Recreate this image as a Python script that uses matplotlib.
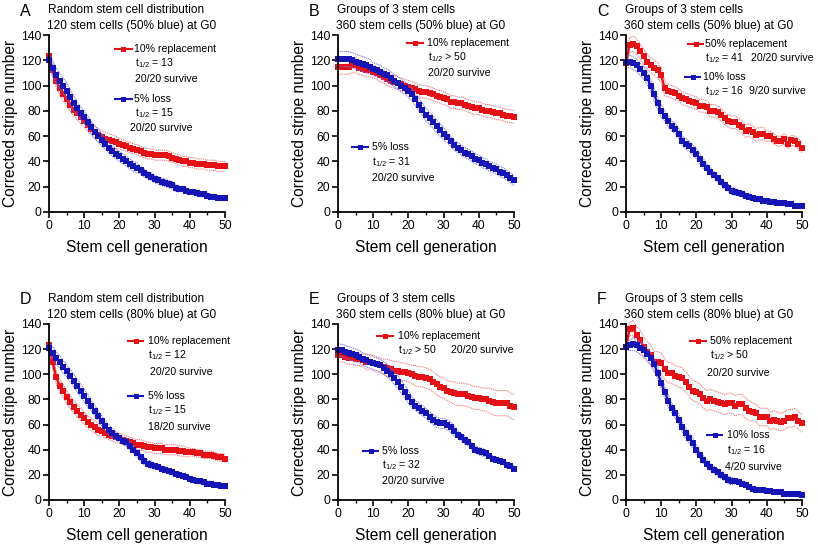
import numpy as np
import matplotlib
matplotlib.use("Agg")
import matplotlib.pyplot as plt
from matplotlib.lines import Line2D

plt.rcParams["font.family"] = ["Liberation Sans", "DejaVu Sans"]
plt.rcParams["mathtext.default"] = "regular"

generations = np.arange(0, 51)

# --- panel A: random distribution, 120 cells (50% blue)
a_red = [123, 112, 104, 98, 93, 89, 85, 81, 78, 75, 72, 69, 66, 63, 61, 59, 58, 57, 56, 55,
         54, 53, 52, 51, 50, 49, 48, 47, 46, 46, 45, 45, 45, 45, 44, 43, 42, 41, 40, 40,
         39, 39, 38, 38, 38, 37, 37, 37, 36, 36, 36]
a_red_sd = [4, 5, 5, 5, 5, 5, 5, 5, 5, 5, 5, 5, 5, 5, 5, 5, 5, 5, 5, 5,
            4, 4, 4, 4, 4, 4, 4, 4, 4, 4, 4, 4, 4, 4, 4, 4, 4, 4, 4, 4,
            4, 4, 4, 4, 4, 4, 4, 4, 4, 4, 4]
a_blue = [120, 114, 108, 104, 100, 96, 91, 86, 82, 78, 75, 71, 67, 63, 60, 57, 54, 51, 48, 46,
          44, 42, 40, 38, 36, 35, 33, 31, 29, 28, 26, 25, 24, 23, 22, 21, 19, 18, 18, 17,
          16, 16, 15, 14, 14, 13, 12, 12, 11, 11, 11]
a_blue_sd = [5, 6, 6, 6, 6, 6, 6, 6, 5, 5, 5, 5, 5, 5, 5, 5, 4, 4, 4, 4,
             4, 4, 4, 4, 4, 4, 3, 3, 3, 3, 3, 3, 3, 3, 3, 3, 3, 2, 2, 2,
             2, 2, 2, 2, 2, 2, 2, 2, 2, 2, 2]

# --- panel B: groups of 3, 360 cells (50% blue)
b_red = [115, 115, 115, 115, 116, 116, 114, 113, 112, 112, 111, 110, 108, 107, 105, 104, 103, 102, 101, 100,
         99, 98, 97, 96, 95, 95, 94, 93, 92, 91, 90, 89, 87, 87, 86, 86, 85, 84, 83, 82,
         82, 81, 80, 80, 79, 78, 78, 77, 76, 76, 75]
b_red_sd = [6, 6, 6, 6, 6, 6, 5, 5, 5, 5, 5, 5, 5, 5, 5, 5, 5, 5, 5, 5,
            5, 5, 5, 5, 5, 5, 5, 5, 5, 5, 5, 5, 5, 5, 5, 5, 5, 5, 5, 5,
            5, 5, 5, 5, 5, 5, 5, 5, 5, 5, 5]
b_blue = [121, 121, 121, 121, 120, 119, 118, 117, 116, 115, 113, 112, 111, 109, 108, 106, 104, 102, 100, 98,
          96, 93, 89, 85, 81, 77, 74, 71, 68, 65, 62, 59, 56, 53, 51, 49, 47, 46, 44, 42,
          41, 39, 38, 36, 35, 34, 32, 31, 29, 27, 25]
b_blue_sd = [6, 6, 6, 6, 6, 6, 6, 6, 6, 6, 5, 5, 5, 5, 5, 5, 5, 5, 5, 5,
             5, 5, 5, 5, 5, 5, 5, 5, 5, 5, 5, 4, 4, 4, 4, 4, 4, 4, 4, 4,
             4, 4, 4, 4, 4, 4, 4, 4, 4, 4, 4]

# --- panel C: groups of 3, 50% replacement vs 10% loss
c_red = [118, 132, 133, 131, 127, 123, 119, 116, 114, 112, 108, 98, 96, 95, 94, 92, 90, 89, 88, 87,
         86, 84, 84, 83, 80, 80, 79, 77, 74, 72, 71, 71, 69, 67, 64, 65, 63, 61, 62, 62,
         60, 60, 58, 56, 56, 58, 54, 57, 56, 54, 51]
c_red_sd = [5, 6, 6, 6, 6, 6, 6, 6, 6, 6, 6, 6, 5, 5, 5, 5, 5, 5, 5, 5,
            5, 5, 5, 5, 5, 5, 5, 5, 5, 5, 5, 5, 5, 5, 5, 5, 5, 5, 5, 5,
            4, 4, 4, 4, 4, 4, 4, 4, 4, 4, 4]
c_blue = [119, 119, 118, 116, 113, 110, 106, 100, 93, 86, 80, 76, 72, 68, 66, 62, 56, 54, 52, 49,
          46, 42, 38, 35, 32, 29, 27, 24, 21, 19, 17, 16, 15, 14, 13, 12, 11, 10, 10, 9,
          9, 8, 8, 7, 7, 7, 6, 6, 5, 5, 5]
c_blue_sd = [4, 5, 5, 5, 5, 5, 5, 5, 5, 5, 5, 4, 4, 4, 4, 4, 4, 4, 4, 4,
             4, 4, 4, 3, 3, 3, 3, 3, 3, 3, 3, 3, 2, 2, 2, 2, 2, 2, 2, 2,
             2, 2, 2, 2, 1, 1, 1, 1, 1, 1, 1]

# --- panel D: random distribution, 120 cells (80% blue)
d_red = [123, 110, 98, 91, 87, 82, 78, 74, 71, 68, 65, 62, 60, 58, 56, 55, 53, 52, 51, 50,
         49, 48, 47, 46, 45, 44, 44, 43, 42, 42, 41, 41, 41, 40, 40, 40, 40, 39, 39, 38,
         38, 38, 37, 37, 36, 36, 36, 35, 34, 34, 33]
d_red_sd = [4, 5, 5, 5, 5, 5, 5, 5, 5, 5, 5, 5, 5, 5, 5, 4, 4, 4, 4, 4,
            4, 4, 4, 4, 4, 4, 4, 4, 4, 4, 4, 4, 4, 4, 4, 4, 4, 4, 4, 4,
            3, 3, 3, 3, 3, 3, 3, 3, 3, 3, 3]
d_blue = [121, 117, 113, 110, 106, 103, 99, 95, 91, 87, 83, 79, 75, 71, 67, 63, 59, 56, 53, 51,
          49, 47, 46, 43, 40, 37, 34, 31, 29, 28, 27, 26, 25, 24, 23, 22, 21, 20, 19, 18,
          17, 16, 15, 15, 14, 13, 13, 12, 12, 11, 11]
d_blue_sd = [4, 5, 5, 5, 5, 5, 5, 5, 5, 5, 5, 5, 4, 4, 4, 4, 4, 4, 4, 3,
             3, 3, 3, 3, 3, 3, 3, 3, 3, 3, 2, 2, 2, 2, 2, 2, 2, 2, 2, 2,
             2, 2, 2, 2, 2, 2, 2, 2, 2, 2, 2]

# --- panel E: groups of 3, 360 cells (80% blue)
e_red = [115, 115, 114, 113, 113, 112, 112, 111, 110, 110, 109, 108, 107, 106, 105, 104, 103, 103, 102, 102,
         101, 100, 99, 98, 98, 97, 96, 94, 92, 90, 89, 87, 86, 85, 84, 84, 84, 83, 82, 81,
         81, 80, 80, 79, 78, 77, 77, 77, 77, 75, 74]
e_red_sd = [5, 5, 5, 5, 5, 5, 5, 5, 6, 6, 6, 6, 6, 6, 7, 7, 7, 7, 7, 7,
            7, 7, 8, 8, 8, 8, 8, 8, 8, 8, 8, 8, 8, 9, 9, 9, 9, 9, 9, 9,
            9, 9, 9, 10, 10, 10, 10, 10, 10, 10, 10]
e_blue = [119, 119, 118, 117, 116, 115, 114, 112, 111, 110, 109, 108, 107, 105, 103, 100, 97, 94, 90, 86,
          82, 78, 75, 73, 71, 69, 66, 64, 62, 61, 61, 60, 58, 55, 52, 50, 48, 46, 43, 40,
          39, 38, 37, 35, 33, 32, 31, 30, 28, 27, 25]
e_blue_sd = [5, 5, 5, 5, 5, 5, 5, 5, 5, 5, 5, 5, 5, 5, 5, 5, 5, 5, 5, 5,
             5, 4, 4, 4, 4, 4, 4, 4, 4, 4, 4, 4, 4, 4, 3, 3, 3, 3, 3, 3,
             3, 3, 3, 2, 2, 2, 2, 2, 2, 2, 2]

# --- panel F: groups of 3, 50% replacement vs 10% loss (80% blue)
f_red = [122, 136, 137, 131, 127, 122, 118, 115, 110, 110, 109, 104, 101, 101, 99, 98, 97, 94, 90, 87,
         86, 84, 81, 79, 80, 79, 78, 77, 76, 77, 77, 75, 76, 76, 73, 71, 70, 69, 66, 66,
         66, 63, 64, 63, 62, 63, 65, 65, 66, 63, 61]
f_red_sd = [3, 5, 6, 7, 8, 8, 8, 8, 8, 8, 8, 8, 8, 8, 8, 8, 8, 8, 8, 8,
            8, 8, 8, 8, 8, 8, 8, 8, 8, 8, 8, 8, 8, 8, 8, 8, 7, 7, 7, 7,
            7, 7, 7, 7, 7, 7, 7, 7, 7, 7, 7]
f_blue = [122, 123, 124, 123, 121, 119, 116, 113, 108, 101, 93, 86, 79, 73, 69, 64, 58, 53, 49, 45,
          40, 36, 32, 29, 26, 24, 22, 20, 18, 16, 15, 15, 14, 13, 12, 10, 9, 8, 8, 8,
          7, 7, 6, 6, 6, 5, 5, 5, 5, 5, 4]
f_blue_sd = [3, 4, 5, 5, 5, 5, 5, 5, 5, 5, 5, 5, 5, 4, 4, 4, 4, 4, 4, 4,
             4, 3, 3, 3, 3, 3, 3, 3, 3, 3, 3, 2, 2, 2, 2, 2, 2, 1, 1, 1,
             1, 1, 1, 1, 1, 1, 1, 1, 1, 1, 1]

panel_letters = ["A", "B", "C", "D", "E", "F"]
panel_titles = [
    ("Random stem cell distribution", "120 stem cells (50% blue) at G0"),
    ("Groups of 3 stem cells", "360 stem cells (50% blue) at G0"),
    ("Groups of 3 stem cells", "360 stem cells (50% blue) at G0"),
    ("Random stem cell distribution", "120 stem cells (80% blue) at G0"),
    ("Groups of 3 stem cells", "360 stem cells (80% blue) at G0"),
    ("Groups of 3 stem cells", "360 stem cells (80% blue) at G0"),
]
series = [
    (a_red, a_red_sd, a_blue, a_blue_sd),
    (b_red, b_red_sd, b_blue, b_blue_sd),
    (c_red, c_red_sd, c_blue, c_blue_sd),
    (d_red, d_red_sd, d_blue, d_blue_sd),
    (e_red, e_red_sd, e_blue, e_blue_sd),
    (f_red, f_red_sd, f_blue, f_blue_sd),
]

RED = "#e50f16"
BLUE = "#1515b5"
RED_LIGHT = "#f27070"
BLUE_LIGHT = "#7070f0"

W, H = 817, 546
fig = plt.figure(figsize=(W / 100, H / 100), dpi=100)

# axes boxes in pixels: left, top, width, height
col_left = [49, 338, 626]
row_top = [35, 324]
row_h = [177, 176]
ax_w = 176


def px(x, y):
    return x / W, 1 - y / H


# legend / annotation layout in figure pixels (text left x, centre y)
legend_lines = [
    [(115, 132, 49, RED), (115, 132, 99, BLUE)],
    [(407, 423, 43, RED), (352, 368, 147, BLUE)],
    [(688, 703, 44, RED), (685, 700, 77, BLUE)],
    [(128, 143, 341, RED), (128, 143, 396, BLUE)],
    [(377, 393, 336, RED), (363, 378, 451, BLUE)],
    [(690, 706, 341, RED), (707, 722, 435, BLUE)],
]
legend_texts = [
    [(134, 49, "10% replacement"), (135, 63, "t$_{1/2}$ = 13"), (135, 79, "20/20 survive"),
     (134, 99, "5% loss"), (135, 113, "t$_{1/2}$ = 15"), (130, 128, "20/20 survive")],
    [(427, 43, "10% replacement"), (428, 57, "t$_{1/2}$ > 50"), (428, 73, "20/20 survive"),
     (372, 147, "5% loss"), (372, 162, "t$_{1/2}$ = 31"), (372, 178, "20/20 survive")],
    [(705, 44, "50% replacement"), (705, 58, "t$_{1/2}$ = 41"), (751, 58, "20/20 survive"),
     (703, 77, "10% loss"), (705, 91, "t$_{1/2}$ = 16"), (749, 91, "9/20 survive")],
    [(148, 341, "10% replacement"), (148, 355, "t$_{1/2}$ = 12"), (150, 372, "20/20 survive"),
     (148, 396, "5% loss"), (148, 410, "t$_{1/2}$ = 15"), (148, 427, "18/20 survive")],
    [(398, 336, "10% replacement"), (398, 350, "t$_{1/2}$ > 50"), (451, 350, "20/20 survive"),
     (382, 451, "5% loss"), (382, 465, "t$_{1/2}$ = 32"), (382, 481, "20/20 survive")],
    [(710, 341, "50% replacement"), (710, 355, "t$_{1/2}$ > 50"), (707, 373, "20/20 survive"),
     (727, 435, "10% loss"), (727, 450, "t$_{1/2}$ = 16"), (725, 467, "4/20 survive")],
]

for i in range(6):
    r, c = divmod(i, 3)
    left, top, h = col_left[c], row_top[r], row_h[r]
    ax = fig.add_axes([left / W, 1 - (top + h) / H, ax_w / W, h / H])

    red, red_sd, blue, blue_sd = [np.array(s, dtype=float) for s in series[i]]
    for mean, sd, col, light in [(red, red_sd, RED, RED_LIGHT), (blue, blue_sd, BLUE, BLUE_LIGHT)]:
        ax.plot(generations, mean + sd, ls=(0, (1.2, 0.8)), lw=0.7, color=light, clip_on=False)
        ax.plot(generations, mean - sd, ls=(0, (1.2, 0.8)), lw=0.7, color=light, clip_on=False)
        ax.plot(generations, mean, "-s", color=col, lw=1.7, ms=3.8, mew=0, clip_on=False)

    ax.set_xlim(0, 50)
    ax.set_ylim(0, 140)
    ax.set_xticks(range(0, 51, 10))
    ax.set_xticks(range(5, 50, 10), minor=True)
    ax.set_yticks(range(0, 141, 20))
    for s in ["top", "right"]:
        ax.spines[s].set_visible(False)
    for s in ["left", "bottom"]:
        ax.spines[s].set_linewidth(1.3)
    ax.tick_params(which="major", direction="out", length=4, width=1.2, labelsize=8.8, pad=1.5)
    ax.tick_params(which="minor", direction="out", length=2.5, width=1.0)
    ax.set_xlabel("Stem cell generation", fontsize=11.2, labelpad=6)
    ax.set_ylabel("Corrected stripe number", fontsize=11.2, labelpad=2)

    # panel letter and title lines
    fig.text(*px(left - 29, top - 24), panel_letters[i], fontsize=11.5, va="center", ha="left")
    fig.text(*px(left - 1, top - 25), panel_titles[i][0], fontsize=8.6, va="center", ha="left")
    fig.text(*px(left - 2, top - 9), panel_titles[i][1], fontsize=8.6, va="center", ha="left")

    for x0, x1, y, col in legend_lines[i]:
        fx0, fy = px(x0, y)
        fx1, _ = px(x1, y)
        fig.add_artist(Line2D([fx0, fx1], [fy, fy], color=col, lw=1.5))
        fig.add_artist(Line2D([(fx0 + fx1) / 2], [fy], color=col, marker="s", ms=3.6, mew=0))
    for x, y, s in legend_texts[i]:
        fig.text(*px(x, y), s, fontsize=7.6, va="center", ha="left")

fig.savefig("out.png", dpi=100)
